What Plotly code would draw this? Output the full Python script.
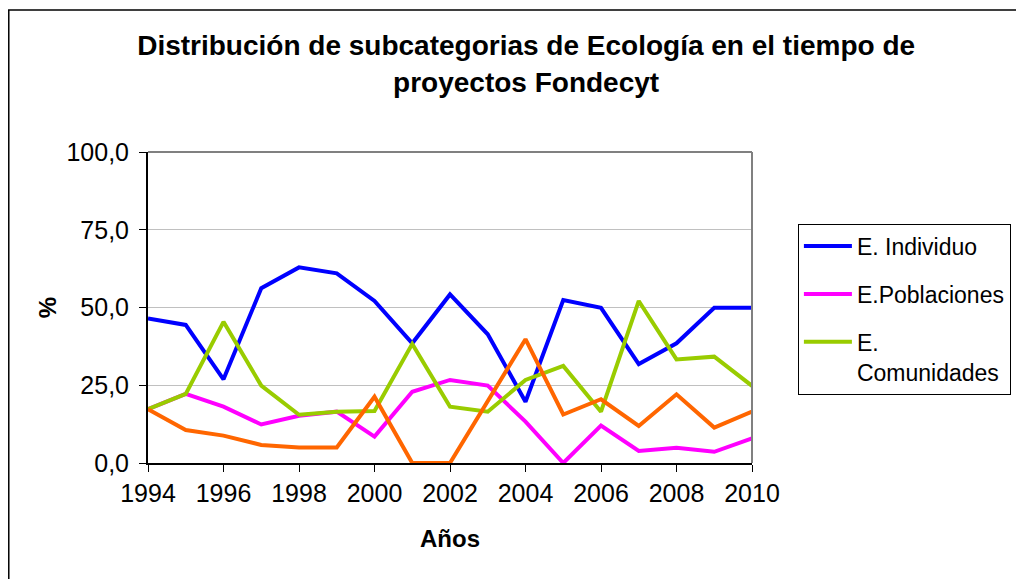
import plotly.graph_objects as go

# Years and percentage per subcategory
years = list(range(1994, 2011))
individuo = [46.5, 44.4, 26.9, 56.2, 62.9, 61.0, 52.1, 38.5, 54.2,
             41.4, 19.7, 52.4, 49.9, 31.8, 38.5, 49.9, 49.9]
poblaciones = [17.3, 22.2, 18.1, 12.4, 15.2, 16.5, 8.5, 22.9, 26.7,
               24.9, 13.3, 0.0, 12.0, 3.9, 4.9, 3.6, 7.9]
comunidades = [17.3, 22.2, 45.4, 24.9, 15.5, 16.5, 16.7, 38.3, 18.1,
               16.5, 26.7, 31.2, 16.5, 52.1, 33.3, 34.2, 24.8]
otros = [17.3, 10.6, 8.8, 5.8, 5.0, 5.0, 21.3, 0.0, 0.0,
         19.8, 39.8, 15.6, 20.5, 11.9, 22.1, 11.4, 16.5]

y_ticks = [0, 25, 50, 75, 100]
y_tick_labels = ["0,0", "25,0", "50,0", "75,0", "100,0"]
x_ticks = list(range(1994, 2011, 2))

FONT = "Arial, Liberation Sans, sans-serif"

series = [
    ("E. Individuo", individuo, "#0000ff", True),
    ("E.Poblaciones", poblaciones, "#ff00ff", True),
    ("E.<br>Comunidades", comunidades, "#99cc00", True),
    ("E. Ecosistemas", otros, "#ff6600", False),
]

fig = go.Figure()
for i, (name, vals, color, show) in enumerate(series):
    fig.add_trace(
        go.Scatter(
            x=years,
            y=vals,
            name=name,
            mode="lines",
            line=dict(color=color, width=4),
            showlegend=show,
            legendgroup=f"g{i}",
        )
    )

# plot-area border (top and right in grey) and outer chart frame
fig.add_shape(type="line", xref="paper", yref="paper", x0=0, y0=1, x1=1, y1=1,
              line=dict(color="#808080", width=2))
fig.add_shape(type="line", xref="paper", yref="paper", x0=1, y0=0, x1=1, y1=1,
              line=dict(color="#808080", width=2))
fig.add_shape(type="rect", xref="paper", yref="paper",
              x0=-0.2305, y0=-0.7, x1=1.7, y1=1.4566,
              line=dict(color="black", width=1.5))

# the page adds an 8px body margin, so the figure is laid out 8px up/left
fig.update_layout(
    width=1024,
    height=579,
    margin=dict(l=140, r=280, t=144, b=124),
    paper_bgcolor="white",
    plot_bgcolor="white",
    font=dict(family=FONT, color="black"),
    title=dict(
        text="<b>Distribución de subcategorias de Ecología en el tiempo de<br>proyectos Fondecyt</b>",
        x=0.506,
        xanchor="center",
        y=0.918,
        yanchor="top",
        font=dict(size=28, family=FONT, color="black"),
    ),
    legend=dict(
        x=1.076,
        y=0.77,
        xanchor="left",
        yanchor="top",
        bgcolor="white",
        bordercolor="black",
        borderwidth=1,
        font=dict(size=23, family=FONT, color="black"),
        tracegroupgap=15,
        valign="top",
        itemwidth=48,
    ),
)

fig.update_xaxes(
    range=[1994, 2010],
    tickvals=x_ticks,
    ticks="outside",
    ticklen=7,
    tickcolor="black",
    showline=True,
    linecolor="black",
    linewidth=2,
    showgrid=False,
    zeroline=False,
    tickfont=dict(size=25, family=FONT),
    title=dict(text="<b>Años</b>", font=dict(size=24, family=FONT), standoff=24),
)
fig.update_yaxes(
    range=[0, 100],
    tickvals=y_ticks,
    ticktext=y_tick_labels,
    ticks="outside",
    ticklen=7,
    tickcolor="black",
    ticklabelstandoff=5,
    showline=True,
    linecolor="black",
    linewidth=2,
    showgrid=True,
    gridcolor="#c0c0c0",
    gridwidth=1,
    zeroline=False,
    tickfont=dict(size=25, family=FONT),
    title=dict(text="<b>%</b>", font=dict(size=24, family=FONT), standoff=3),
)

fig.write_html("out.html")
